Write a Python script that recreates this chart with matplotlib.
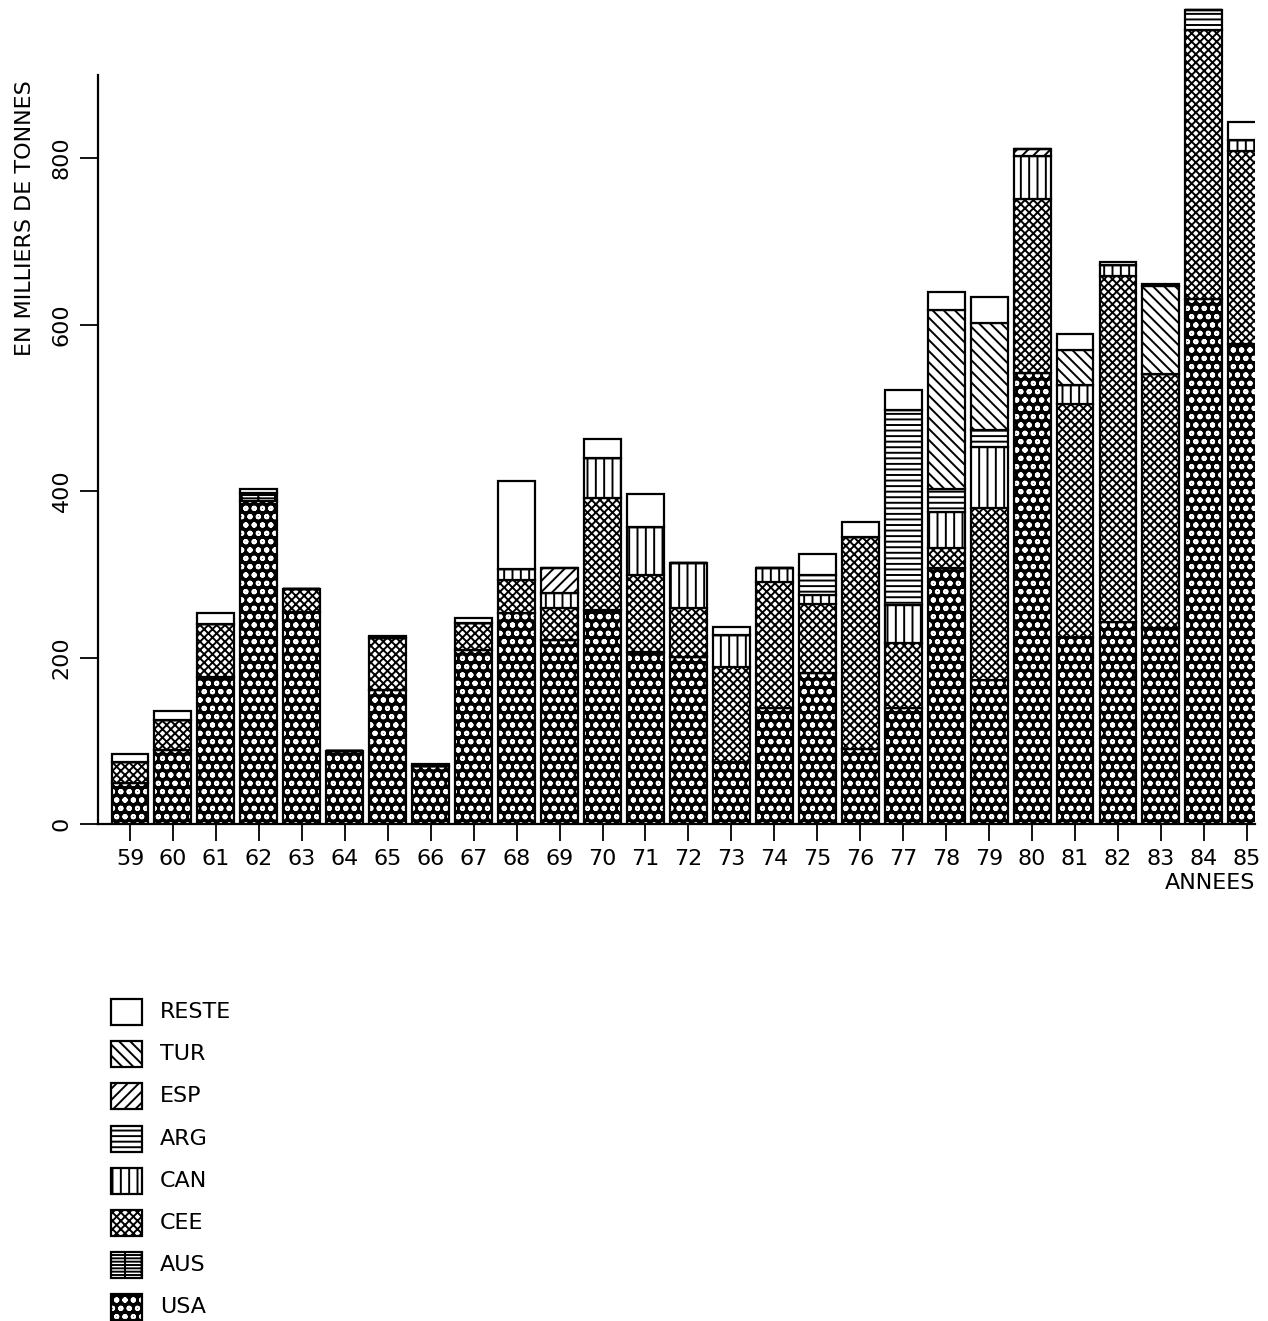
import matplotlib
matplotlib.use('Agg')
import matplotlib.pyplot as plt
from matplotlib.patches import Rectangle
import numpy as np

plt.rcParams['font.family'] = ['DejaVu Sans']
plt.rcParams['hatch.linewidth'] = 1.4

annees = ['59', '60', '61', '62', '63', '64', '65', '66', '67', '68', '69', '70', '71',
          '72', '73', '74', '75', '76', '77', '78', '79', '80', '81', '82', '83', '84', '85']

# milliers de tonnes, du bas vers le haut de chaque barre
usa = [49, 89, 177, 388, 255, 88, 161, 70, 209, 253, 221, 257, 207,
       201, 75, 139, 181, 90, 139, 307, 173, 542, 225, 243, 236, 631, 577]
aus = [0, 0, 0, 10, 0, 0, 0, 0, 0, 0, 0, 0, 0,
       0, 0, 0, 0, 0, 0, 0, 0, 0, 0, 0, 0, 0, 0]
cee = [26, 36, 63, 0, 27, 0, 63, 0, 32, 40, 38, 135, 92,
       59, 113, 152, 83, 255, 79, 24, 207, 209, 280, 415, 304, 323, 231]
can = [0, 0, 0, 0, 0, 0, 0, 0, 0, 13, 18, 48, 58,
       53, 39, 17, 11, 0, 45, 44, 73, 51, 22, 14, 0, 0, 14]
arg = [0, 0, 0, 0, 0, 0, 0, 0, 0, 0, 0, 0, 0,
       0, 0, 0, 24, 0, 234, 28, 20, 0, 0, 0, 0, 24, 0]
esp = [0, 0, 0, 0, 0, 0, 0, 0, 0, 0, 31, 0, 0,
       0, 0, 0, 0, 0, 0, 0, 0, 9, 0, 0, 0, 0, 0]
tur = [0, 0, 0, 0, 0, 0, 0, 0, 0, 0, 0, 0, 0,
       0, 0, 0, 0, 0, 0, 215, 129, 0, 42, 0, 106, 0, 0]
reste = [9, 11, 14, 4, 0, 0, 2, 2, 7, 106, 0, 23, 39,
         0, 10, 0, 25, 18, 24, 21, 31, 0, 19, 3, 3, 0, 21]

series = [('USA', usa), ('AUS', aus), ('CEE', cee), ('CAN', can),
          ('ARG', arg), ('ESP', esp), ('TUR', tur), ('RESTE', reste)]

# style de chaque serie : fond, couleur des hachures, hachures
styles = {
    'USA':   ('black', 'white', 'oo'),
    'AUS':   ('white', 'black', '-----|'),
    'CEE':   ('white', 'black', 'xxxx'),
    'CAN':   ('white', 'black', '||'),
    'ARG':   ('white', 'black', '---'),
    'ESP':   ('white', 'black', '///'),
    'TUR':   ('white', 'black', '\\\\\\'),
    'RESTE': ('white', 'black', ''),
}

fig = plt.figure(figsize=(12.68, 13.21), dpi=100)
ax = fig.add_axes([98 / 1268, 1 - 824 / 1321, (1255 - 98) / 1268, 820 / 1321])

x = np.arange(len(annees))
width = 0.86
bottom = np.zeros(len(annees))
for name, vals in series:
    vals = np.array(vals, dtype=float)
    fc, hc, h = styles[name]
    ax.bar(x, vals, width, bottom=bottom, color=fc, edgecolor=hc, hatch=h, linewidth=0)
    ax.bar(x, vals, width, bottom=bottom, fill=False, edgecolor='black', linewidth=1.6)
    bottom += vals

ax.set_xlim(-0.745, 26.19)
ax.set_ylim(0, 985)
ax.spines['top'].set_visible(False)
ax.spines['right'].set_visible(False)
ax.spines['left'].set_bounds(0, 900)
ax.spines['left'].set_linewidth(1.6)
ax.spines['bottom'].set_linewidth(1.6)

ax.set_xticks(x)
ax.set_xticklabels(annees, fontsize=16)
ax.set_yticks([0, 200, 400, 600, 800])
ax.set_yticklabels(['0', '200', '400', '600', '800'], fontsize=16, rotation=90, va='center')
ax.tick_params(axis='x', length=12, width=1.3, pad=6)
ax.tick_params(axis='y', length=13, width=1.3, pad=6)

fig.text(25 / 1268, 1 - 218 / 1321, 'EN MILLIERS DE TONNES', rotation=90,
         ha='center', va='center', fontsize=16)
fig.text(1255 / 1268, 1 - 883 / 1321, 'ANNEES', ha='right', va='center', fontsize=16)

# legende dessinee a la main en bas a gauche
legend_rows = ['RESTE', 'TUR', 'ESP', 'ARG', 'CAN', 'CEE', 'AUS', 'USA']
for i, name in enumerate(legend_rows):
    yc = 1012 + i * 42.2
    fc, hc, h = styles[name]
    x0, y0 = 111 / 1268, 1 - (yc + 13) / 1321
    w, hh = 31 / 1268, 26 / 1321
    fig.patches.append(Rectangle((x0, y0), w, hh, transform=fig.transFigure,
                                 facecolor=fc, edgecolor=hc, hatch=h, linewidth=0))
    fig.patches.append(Rectangle((x0, y0), w, hh, transform=fig.transFigure,
                                 fill=False, edgecolor='black', linewidth=1.6))
    fig.text(160 / 1268, 1 - yc / 1321, name, ha='left', va='center', fontsize=16)

fig.savefig('out.png', dpi=100)
